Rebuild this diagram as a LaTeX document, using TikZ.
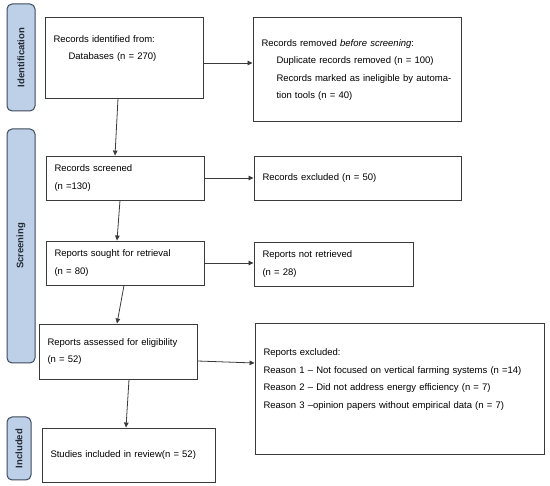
\documentclass[tikz,border=0pt]{standalone}
\usepackage{fontspec}
\setmainfont{Liberation Sans}
\usepackage{tikz}
\usetikzlibrary{positioning, arrows.meta, calc}
\definecolor{ink}{HTML}{3A3A3A}
\definecolor{phase}{HTML}{BDD0E8}
\definecolor{phaseline}{HTML}{3D4A5C}

\tikzset{
  prbox/.style={draw=ink, line width=0.9pt, align=left, inner xsep=8.5pt,
                font=\fontsize{9.5}{17.5}\selectfont},
  phasebox/.style={draw=phaseline, line width=1pt, fill=phase, rounded corners=5pt,
                   rotate=90, inner sep=0pt, text=phaseline!55!black,
                   font=\fontsize{9.5}{11}\selectfont\bfseries},
  flow/.style={-{Triangle[length=5pt, width=4.5pt]}, ink, line width=0.8pt}
}

\begin{document}
\begin{tikzpicture}[x=1pt, y=-1pt]
  \useasboundingbox (0,0) rectangle (550,486);

  % phase labels
  \node[phasebox, minimum width=107pt, minimum height=28pt] (idf) at (21,57.5) {Identification};
  \node[phasebox, minimum width=234pt, minimum height=28pt] (scr) at (21,246) {Screening};
  \node[phasebox, minimum width=63pt, minimum height=24pt] (inc) at (19,448.5) {Included};

  % identification
  \node[prbox, text width=141pt, minimum height=81pt, text depth=37.5pt] (ident) at (124,57.5)
    {Records identified from:\\\hspace*{15pt}Databases (n = 270)};
  \node[prbox, text width=191pt, minimum height=104pt, text depth=52pt] (removed) at (357,69)
    {Records removed \textit{before screening}:\\
     \hspace*{15pt}Duplicate records removed (n = 100)\\
     \hspace*{15pt}Records marked as ineligible by automa-\\
     \hspace*{15pt}tion tools (n = 40)};

  % screening
  \node[prbox, text width=141pt, minimum height=44pt] (screened) at (125,178)
    {Records screened\\(n =130)};
  \node[prbox, text width=190pt, minimum height=44pt] (excluded) at (357.5,178)
    {Records excluded (n = 50)};
  \node[prbox, text width=141pt, minimum height=44pt] (sought) at (125,263)
    {Reports sought for retrieval\\(n = 80)};
  \node[prbox, text width=142pt, minimum height=44pt] (notret) at (333.5,264)
    {Reports not retrieved\\(n = 28)};
  \node[prbox, text width=141pt, minimum height=55pt] (assessed) at (118,351.5)
    {Reports assessed for eligibility\\(n = 52)};
  \node[prbox, text width=272pt, minimum height=131pt, text depth=72.5pt] (repexcl) at (399.5,388.5)
    {Reports excluded:\\
     Reason 1 – Not focused on vertical farming systems (n =14)\\
     Reason 2 – Did not address energy efficiency (n = 7)\\
     Reason 3 –opinion papers without empirical data (n = 7)};

  % included
  \node[prbox, text width=156pt, minimum height=54pt] (studies) at (128.5,455)
    {Studies included in review(n = 52)};

  % connectors
  \draw[flow] ([yshift=-5.5pt]ident.east) -- ([yshift=-5.5pt]ident.east -| removed.west);
  \draw[flow] ([xshift=-6pt]ident.south) -- ([xshift=-10pt]screened.north);
  \draw[flow] (screened) -- (excluded);
  \draw[flow] ([xshift=-5pt]screened.south) -- ([xshift=-8pt]sought.north);
  \draw[flow] (sought) -- (sought -| notret.west);
  \draw[flow] ([xshift=-1pt]sought.south) -- ([xshift=-1pt]assessed.north);
  \draw[flow] ([yshift=-9.5pt]assessed.east) -- ([yshift=25.5pt]repexcl.west);
  \draw[flow] ([xshift=11pt]assessed.south) -- ([xshift=-2.5pt]studies.north);
\end{tikzpicture}
\end{document}
